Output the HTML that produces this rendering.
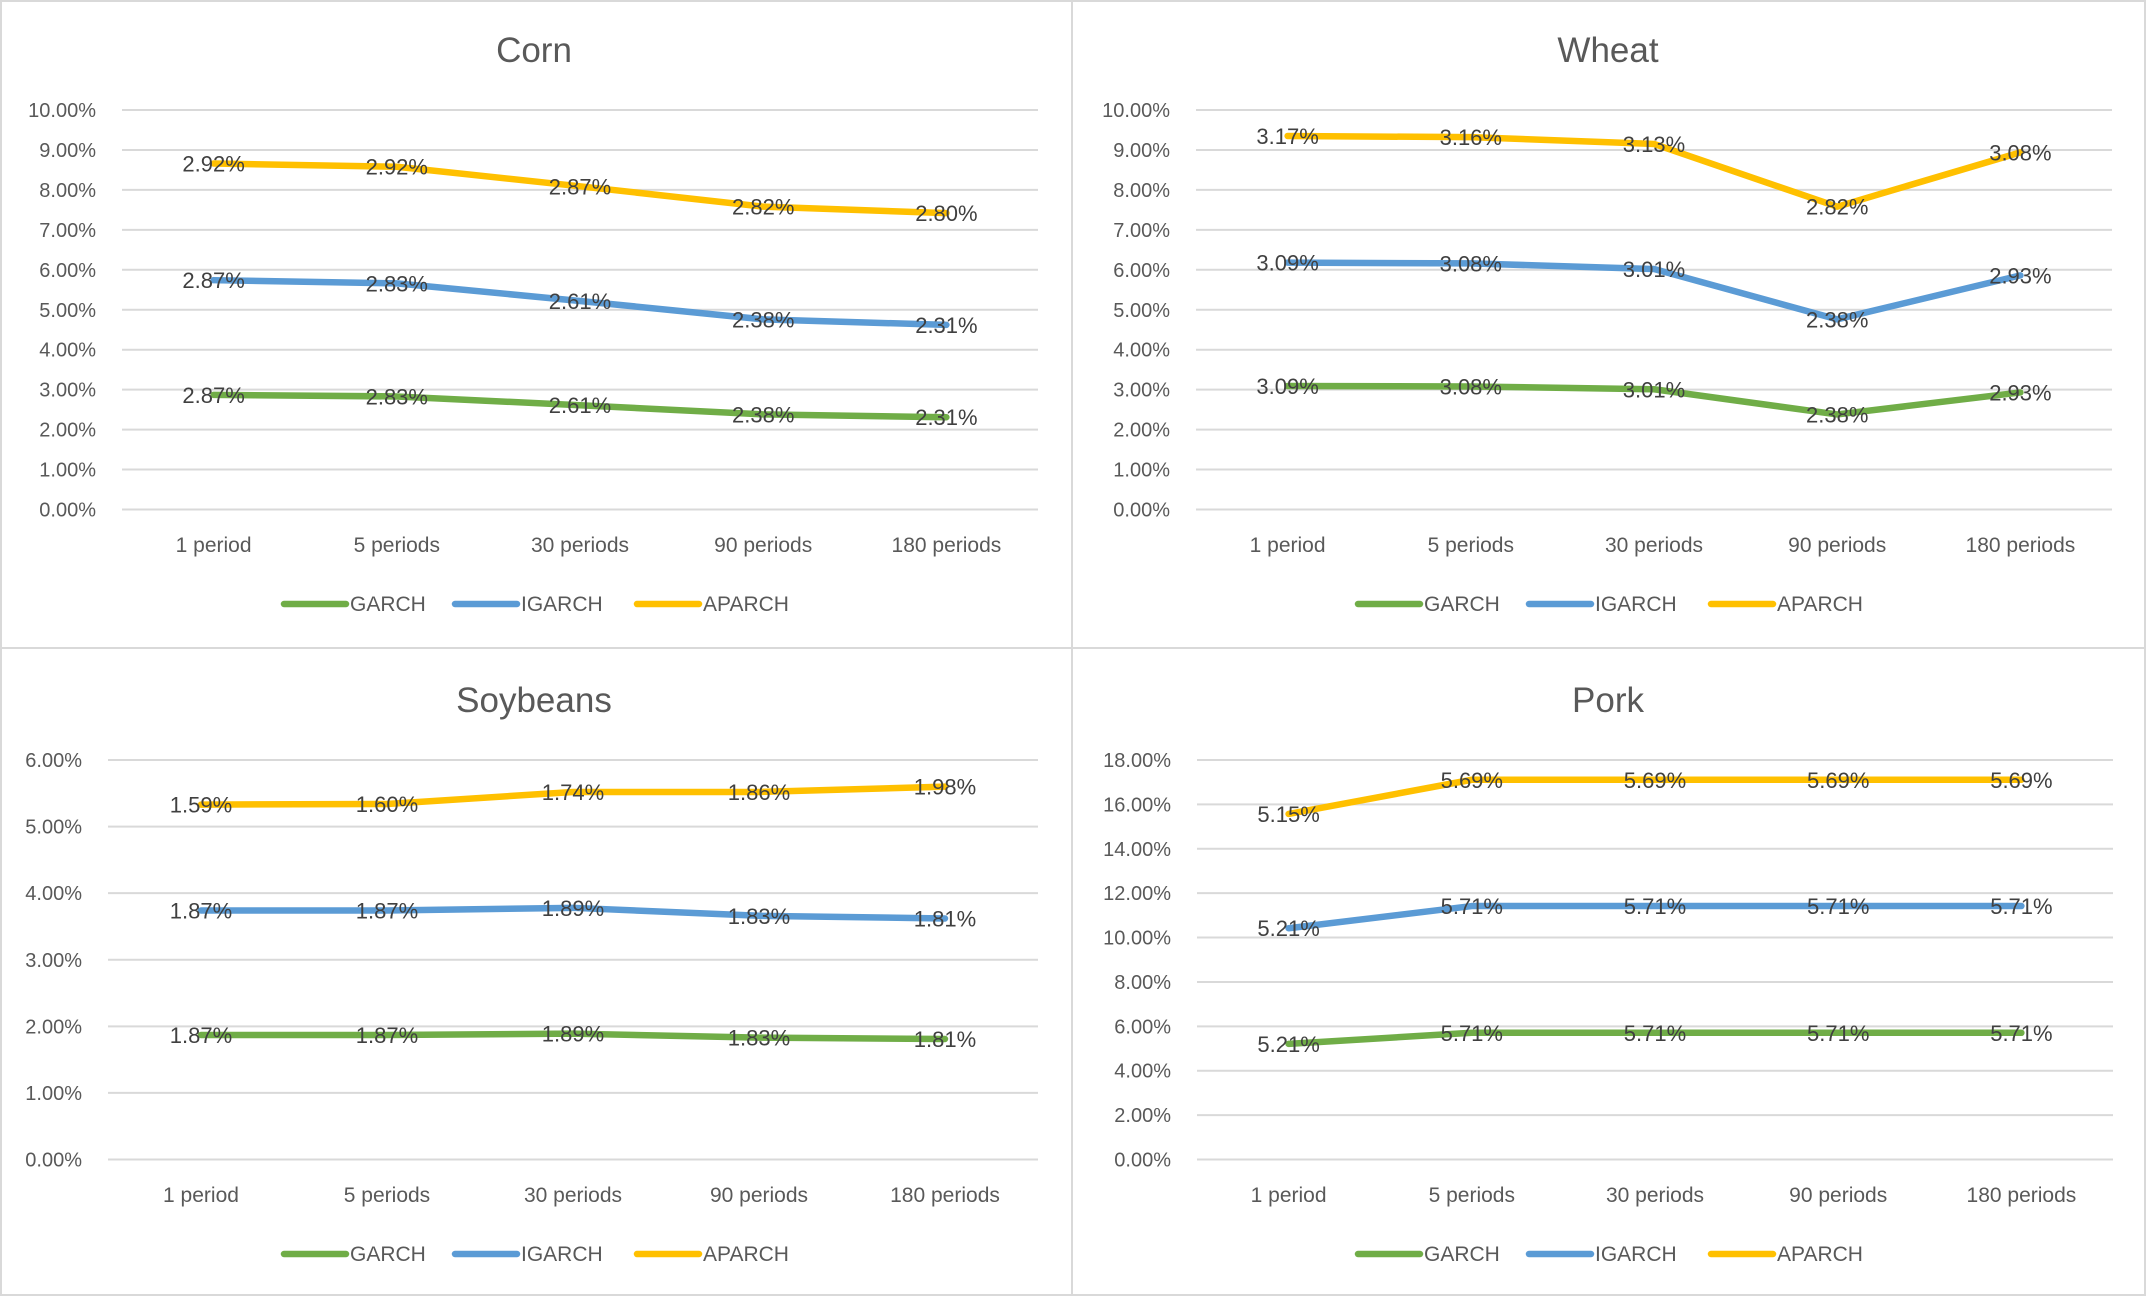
<!DOCTYPE html>
<html><head><meta charset="utf-8"><style>
html,body{margin:0;padding:0;background:#fff}
svg{display:block}
text{font-family:"Liberation Sans",sans-serif;fill:#595959}
</style></head><body>
<svg id="chart" width="2146" height="1296" xmlns="http://www.w3.org/2000/svg">
<rect x="0" y="0" width="2146" height="1296" fill="#fff"/>
<line x1="1072" y1="0" x2="1072" y2="1296" stroke="#d9d9d9" stroke-width="2"/>
<line x1="0" y1="648" x2="2146" y2="648" stroke="#d9d9d9" stroke-width="2"/>
<rect x="1" y="1" width="2144" height="1294" fill="none" stroke="#d9d9d9" stroke-width="2"/>
</svg>
<script>
const categories = ["1 period","5 periods","30 periods","90 periods","180 periods"];
const seriesNames = ["GARCH","IGARCH","APARCH"];
const cornGarch = [2.87,2.83,2.61,2.38,2.31];
const cornIgarch = [2.87,2.83,2.61,2.38,2.31];
const cornAparch = [2.92,2.92,2.87,2.82,2.80];
const wheatGarch = [3.09,3.08,3.01,2.38,2.93];
const wheatIgarch = [3.09,3.08,3.01,2.38,2.93];
const wheatAparch = [3.17,3.16,3.13,2.82,3.08];
const soyGarch = [1.87,1.87,1.89,1.83,1.81];
const soyIgarch = [1.87,1.87,1.89,1.83,1.81];
const soyAparch = [1.59,1.60,1.74,1.86,1.98];
const porkGarch = [5.21,5.71,5.71,5.71,5.71];
const porkIgarch = [5.21,5.71,5.71,5.71,5.71];
const porkAparch = [5.15,5.69,5.69,5.69,5.69];
const cornTicks = [0,1,2,3,4,5,6,7,8,9,10];
const wheatTicks = [0,1,2,3,4,5,6,7,8,9,10];
const soyTicks = [0,1,2,3,4,5,6];
const porkTicks = [0,2,4,6,8,10,12,14,16,18];

const colors = ["#70ad47","#5b9bd5","#ffc000"];
const NS = "http://www.w3.org/2000/svg";
const svg = document.getElementById('chart');
function mk(tag, attrs, parent){
  const e = document.createElementNS(NS, tag);
  for (const k in attrs) e.setAttribute(k, attrs[k]);
  (parent||svg).appendChild(e);
  return e;
}
function panel(key, title, ox, oy, left, right, ticks, series){
  const g = mk('g', {});
  
  
  const top = oy + 110, bottom = oy + 509.5;
  const maxV = ticks[ticks.length-1];
  const y = v => bottom - (v / maxV) * (bottom - top);
  const bw = (right - left) / categories.length;
  const x = i => left + bw * (i + 0.5);
  const t = mk('text', {x: ox + 534, y: oy + 62, 'font-size': 35, 'text-anchor': 'middle'}, g);
  t.textContent = title;
  
  
  ticks.forEach(tv => {
    const gl = mk('line', {x1: left, x2: right, y1: y(tv), y2: y(tv), stroke: '#d9d9d9', 'stroke-width': 2}, g);
    
    
    const tl = mk('text', {x: left - 26, y: y(tv) + 7, 'font-size': 20, 'text-anchor': 'end'}, g);
    tl.textContent = tv.toFixed(2) + '%';
    
    
  });
  categories.forEach((c, i) => {
    const cl = mk('text', {x: x(i), y: oy + 552, 'font-size': 21, 'text-anchor': 'middle'}, g);
    cl.textContent = c;
    
    
  });
  const cum = categories.map(() => 0);
  const stacked = series.map(s => s.map((v, i) => (cum[i] += v)));
  stacked.forEach((s, si) => {
    const pts = s.map((v, i) => x(i) + ',' + y(v)).join(' ');
    const pl = mk('polyline', {points: pts, fill: 'none', stroke: colors[si], 'stroke-width': 6.5, 'stroke-linejoin': 'round', 'stroke-linecap': 'round'}, g);
    
    
  });
  stacked.forEach((s, si) => {
    s.forEach((v, i) => {
      const dl = mk('text', {x: x(i), y: y(v) + 8, 'font-size': 22, 'text-anchor': 'middle', style: 'fill:#404040'}, g);
      dl.textContent = series[si][i].toFixed(2) + '%';
      
      
    });
  });
  const lx = [284, 455, 637];
  seriesNames.forEach((n, si) => {
    const ll = mk('line', {x1: ox + lx[si], x2: ox + lx[si] + 62, y1: oy + 604, y2: oy + 604, stroke: colors[si], 'stroke-width': 6.5, 'stroke-linecap': 'round'}, g);
    
    
    const lt = mk('text', {x: ox + lx[si] + 66, y: oy + 611, 'font-size': 21}, g);
    lt.textContent = n;
    
    
  });
}
panel('corn', 'Corn', 0, 0, 122, 1038, cornTicks, [cornGarch, cornIgarch, cornAparch]);
panel('wheat', 'Wheat', 1074, 0, 1196, 2112, wheatTicks, [wheatGarch, wheatIgarch, wheatAparch]);
panel('soybeans', 'Soybeans', 0, 650, 108, 1038, soyTicks, [soyGarch, soyIgarch, soyAparch]);
panel('pork', 'Pork', 1074, 650, 1197, 2113, porkTicks, [porkGarch, porkIgarch, porkAparch]);
</script>
</body></html>
